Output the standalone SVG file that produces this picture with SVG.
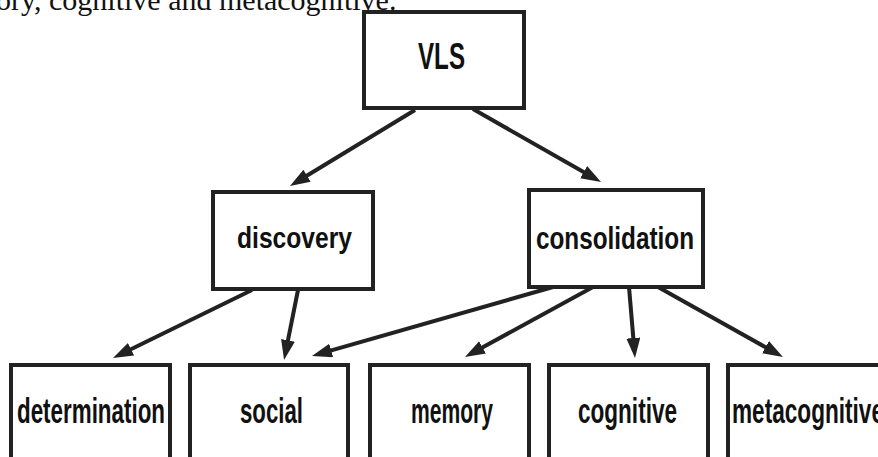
<svg xmlns="http://www.w3.org/2000/svg" width="878" height="457" viewBox="0 0 878 457">
<style>
.box{fill:#fff;stroke:#222;stroke-width:4}
.lbl{font-family:'Liberation Sans Narrow','Liberation Sans',Arial,sans-serif;font-weight:bold;fill:#111}
.cap{font-family:'Liberation Serif','Times New Roman',serif;font-size:30px;fill:#111}
.arr{stroke:#222;stroke-width:4;fill:none;marker-end:url(#ah)}
</style>
<defs>
<marker id="ah" markerUnits="userSpaceOnUse" markerWidth="22" markerHeight="16" refX="8" refY="7" orient="auto">
<path d="M0,0 L20,7 L0,14 z" fill="#222"/>
</marker>
</defs>
<rect width="878" height="457" fill="#fff"/>
<text class="cap" x="-4" y="10">ory, cognitive and metacognitive.</text>
<g id="connectors">
<line class="arr" x1="415" y1="110" x2="300.2" y2="179.8"/>
<line class="arr" x1="473" y1="109" x2="590.6" y2="176.1"/>
<line class="arr" x1="252" y1="290" x2="123.8" y2="352.7"/>
<line class="arr" x1="298" y1="290" x2="286.4" y2="348.2"/>
<line class="arr" x1="553" y1="287" x2="323.5" y2="352.7"/>
<line class="arr" x1="593" y1="287" x2="475.5" y2="351.2"/>
<line class="arr" x1="629" y1="287" x2="634" y2="346"/>
<line class="arr" x1="658" y1="287" x2="772.5" y2="351.1"/>
</g>
<g id="vls">
<rect class="box" x="364" y="12" width="160" height="96"/>
<text class="lbl" x="441.5" y="69" font-size="36" text-anchor="middle" textLength="47" lengthAdjust="spacingAndGlyphs">VLS</text>
</g>
<g id="discovery">
<rect class="box" x="213" y="192" width="160" height="97"/>
<text class="lbl" x="294.5" y="248" font-size="30" text-anchor="middle" textLength="115" lengthAdjust="spacingAndGlyphs">discovery</text>
</g>
<g id="consolidation">
<rect class="box" x="529" y="190" width="174" height="97"/>
<text class="lbl" x="615" y="249" font-size="32" text-anchor="middle" textLength="158" lengthAdjust="spacingAndGlyphs">consolidation</text>
</g>
<g id="determination">
<rect class="box" x="11" y="365" width="159" height="100"/>
<text class="lbl" x="91" y="423" font-size="35" text-anchor="middle" textLength="148" lengthAdjust="spacingAndGlyphs">determination</text>
</g>
<g id="social">
<rect class="box" x="190" y="365" width="158" height="100"/>
<text class="lbl" x="271.5" y="423" font-size="35" text-anchor="middle" textLength="63" lengthAdjust="spacingAndGlyphs">social</text>
</g>
<g id="memory">
<rect class="box" x="370" y="365" width="159" height="100"/>
<text class="lbl" x="452" y="423" font-size="35" text-anchor="middle" textLength="82" lengthAdjust="spacingAndGlyphs">memory</text>
</g>
<g id="cognitive">
<rect class="box" x="549" y="365" width="159" height="100"/>
<text class="lbl" x="627.5" y="423" font-size="35" text-anchor="middle" textLength="99" lengthAdjust="spacingAndGlyphs">cognitive</text>
</g>
<g id="metacognitive">
<rect class="box" x="728" y="365" width="160" height="100"/>
<text class="lbl" x="732" y="423" font-size="35" textLength="152" lengthAdjust="spacingAndGlyphs">metacognitive</text>
</g>
</svg>
